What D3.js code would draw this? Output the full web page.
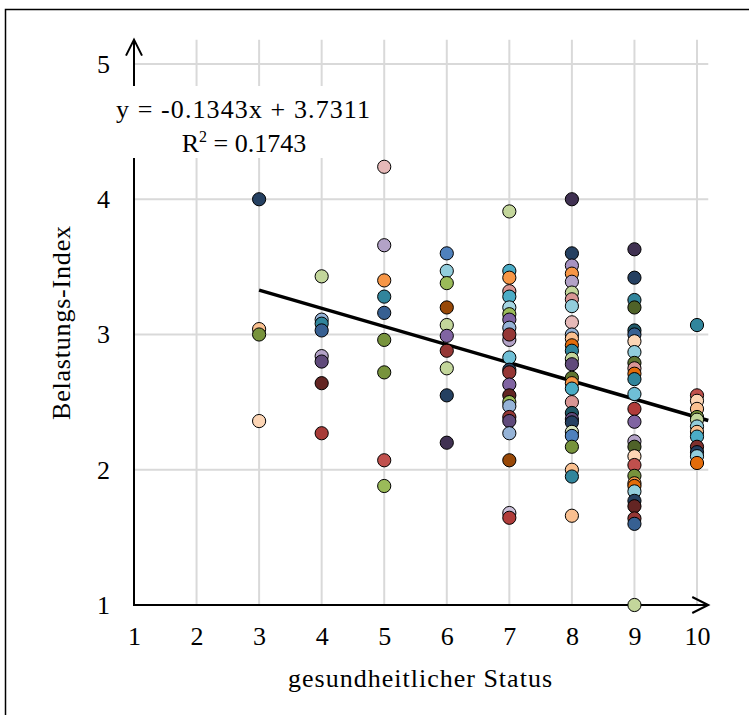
<!DOCTYPE html>
<meta charset="utf-8">
<style>
html, body {
  margin: 0;
  padding: 0;
  background: #fff;
}
svg text {
  font-family: "Liberation Serif", "DejaVu Serif", serif;
  fill: #000;
}
.grid line {
  stroke: #d9d9d9;
  stroke-width: 2px;
}
.dots circle {
  stroke: #000;
  stroke-width: 1px;
}
</style>
<div id="chart"></div>
<script src="https://cdn.jsdelivr.net/npm/d3@7"></script>
<script>

// values: one array per status column
var statusCols = [3, 4, 5, 6, 7, 8, 9, 10];
var belastung = [
  [4.0, 3.04, 3.0, 2.36],
  [3.43, 3.11, 3.08, 3.03, 2.84, 2.80, 2.64, 2.27],
  [4.24, 3.66, 3.40, 3.28, 3.16, 2.96, 2.72, 2.07, 1.88],
  [3.60, 3.47, 3.38, 3.20, 3.07, 2.99, 2.88, 2.75, 2.55, 2.20],
  [3.91, 3.47, 3.42, 3.32, 3.28, 3.20, 3.15, 3.11, 3.05, 2.96, 3.00, 2.83, 2.74, 2.72,
   2.63, 2.55, 2.50, 2.47, 2.39, 2.36, 2.27, 2.07, 1.68, 1.645],
  [4.0, 3.60, 3.51, 3.45, 3.39, 3.31, 3.26, 3.21, 3.09, 3.0, 2.97, 2.92, 2.88, 2.82,
   2.78, 2.68, 2.64, 2.60, 2.50, 2.42, 2.375, 2.35, 2.28, 2.25, 2.17, 2.0, 1.95, 1.66],
  [3.63, 3.42, 3.255, 3.20, 3.03, 3.0, 2.95, 2.87, 2.79, 2.75, 2.71, 2.67, 2.56, 2.45,
   2.355, 2.21, 2.17, 2.10, 2.035, 1.955, 1.90, 1.88, 1.84, 1.77, 1.73, 1.64, 1.60, 1.0],
  [3.07, 2.55, 2.51, 2.45, 2.39, 2.37, 2.32, 2.28, 2.245, 2.17, 2.13, 2.10, 2.05]
];
// colour of each marker, same layout as belastung
var pointColors = [
  ["#254061", "#fac090", "#77933c", "#fcd5b5"],
  ["#c3d69b", "#95b3d7", "#31859c", "#376092", "#b3a2c7", "#604a7b", "#632523", "#a83b38"],
  ["#e6b9b8", "#b3a2c7", "#f79646", "#31859c", "#376092", "#77933c", "#77933c", "#c0504d", "#9bbb59"],
  ["#4f81bd", "#92cddc", "#9bbb59", "#984807", "#c3d69b", "#8064a2", "#953735", "#c3d69b", "#254061", "#403152"],
  ["#c3d69b", "#4bacc6", "#f79646", "#d99694", "#4bacc6", "#a5d5e2", "#9bbb59", "#8064a2", "#95b3d7", "#b3a2c7",
   "#953735", "#6fbfd6", "#254061", "#953735", "#8064a2", "#632523", "#9bbb59", "#95b3d7", "#953735", "#604a7b",
   "#95b3d7", "#984807", "#ccc1da", "#b03c3a"],
  ["#403152", "#254061", "#a692c2", "#f79646", "#b3a2c7", "#c3d69b", "#d99694", "#92cddc", "#e6b9b8", "#95b3d7",
   "#fac090", "#e46c0a", "#31859c", "#c3d69b", "#604a7b", "#5f7530", "#f79646", "#4bacc6", "#d99694", "#205867",
   "#604a7b", "#254061", "#d7e4bd", "#4f81bd", "#77933c", "#fac090", "#31859c", "#fac090"],
  ["#403152", "#254061", "#31859c", "#4f6228", "#205867", "#376092", "#fcd5b5", "#92cddc", "#5f7530", "#d99694",
   "#e46c0a", "#31859c", "#6fbfd6", "#b03c3a", "#8064a2", "#b3a2c7", "#4f6228", "#fcd5b5", "#c0504d", "#77933c",
   "#f79646", "#e46c0a", "#92cddc", "#254061", "#632523", "#953735", "#376092", "#c3d69b"],
  ["#31859c", "#c0504d", "#fcd5b5", "#fac090", "#77933c", "#c3d69b", "#92cddc", "#fac090", "#4bacc6", "#7f2f2d",
   "#254061", "#92cddc", "#e46c0a"]
];

var xTicks = [1, 2, 3, 4, 5, 6, 7, 8, 9, 10];
var yTicks = [1, 2, 3, 4, 5];
var trendSlope = -0.1343;
var trendIntercept = 3.7311;
var trendFrom = 3, trendTo = 10.18;
var rSquared = "0.1743";

var points = [];
statusCols.forEach(function(s, i) {
  belastung[i].forEach(function(v, j) {
    points.push({x: s, y: v, c: pointColors[i][j]});
  });
});

var width = 749, height = 715;

var svg = d3.select("#chart").append("svg")
    .attr("width", width)
    .attr("height", height);

var x = d3.scaleLinear().domain([1, 10]).range([134, 697]);
var y = d3.scaleLinear().domain([1, 5]).range([605, 64]);

var xEnd = x(10.18), yTop = y(5.18);

// outer frame (runs off the right and bottom edge)
svg.append("rect")
    .attr("x", 5.5).attr("y", 9.5)
    .attr("width", 800).attr("height", 800)
    .attr("fill", "none")
    .attr("stroke", "#000")
    .attr("stroke-width", 1.5);

var grid = svg.append("g").attr("class", "grid");
grid.selectAll(".vx")
    .data(xTicks.slice(1))
  .enter().append("line")
    .attr("x1", d => x(d)).attr("x2", d => x(d))
    .attr("y1", yTop).attr("y2", y(1));
grid.selectAll(".hy")
    .data(yTicks.slice(1))
  .enter().append("line")
    .attr("x1", x(1)).attr("x2", xEnd)
    .attr("y1", d => y(d)).attr("y2", d => y(d));

// tick labels through d3 axes
var xAxis = svg.append("g")
    .attr("transform", "translate(0," + y(1) + ")")
    .call(d3.axisBottom(x).tickValues(xTicks).tickFormat(d3.format("d")).tickSize(0).tickPadding(22));
var yAxis = svg.append("g")
    .attr("transform", "translate(" + x(1) + ",0)")
    .call(d3.axisLeft(y).tickValues(yTicks).tickFormat(d3.format("d")).tickSize(0).tickPadding(24));
[xAxis, yAxis].forEach(function(a) {
  a.select(".domain").remove();
  a.selectAll("text")
      .style("font-family", '"Liberation Serif", serif')
      .style("font-size", "26px");
});

// axis lines with open arrow heads
var axisPath = svg.append("g")
    .attr("fill", "none")
    .attr("stroke", "#000")
    .attr("stroke-width", 2);
axisPath.append("path")
    .attr("d", "M" + x(1) + "," + yTop + "V" + y(1) + "H" + xEnd);
axisPath.append("path")
    .attr("d", "M" + (x(1) - 8) + "," + (yTop + 16) + "L" + x(1) + "," + yTop + "L" + (x(1) + 8) + "," + (yTop + 16));
axisPath.append("path")
    .attr("d", "M" + (xEnd - 16) + "," + (y(1) - 8) + "L" + xEnd + "," + y(1) + "L" + (xEnd - 16) + "," + (y(1) + 8));

// trend line
svg.append("line")
    .attr("x1", x(trendFrom)).attr("y1", y(trendIntercept + trendSlope * trendFrom))
    .attr("x2", x(trendTo)).attr("y2", y(trendIntercept + trendSlope * trendTo))
    .attr("stroke", "#000")
    .attr("stroke-width", 3.5);

svg.append("g").attr("class", "dots")
  .selectAll("circle")
    .data(points)
  .enter().append("circle")
    .attr("cx", d => x(d.x))
    .attr("cy", d => y(d.y))
    .attr("r", 6.6)
    .attr("fill", d => d.c);

// equation label, white box hides the grid behind it
svg.append("rect")
    .attr("x", 112).attr("y", 86)
    .attr("width", 262).attr("height", 72)
    .attr("fill", "#fff");
svg.append("text")
    .attr("x", 243).attr("y", 118)
    .attr("text-anchor", "middle")
    .attr("textLength", 254)
    .attr("lengthAdjust", "spacing")
    .style("font-size", "26px")
    .text("y = " + trendSlope + "x + " + trendIntercept);
var r2 = svg.append("text")
    .attr("x", 244).attr("y", 152)
    .attr("text-anchor", "middle")
    .style("font-size", "26px");
r2.append("tspan").text("R");
r2.append("tspan").attr("dy", -10).style("font-size", "16px").text("2");
r2.append("tspan").attr("dy", 10).text(" = " + rSquared);

svg.append("text")
    .attr("x", 420).attr("y", 687)
    .attr("text-anchor", "middle")
    .attr("textLength", 264)
    .attr("lengthAdjust", "spacing")
    .style("font-size", "26px")
    .text("gesundheitlicher Status");

svg.append("text")
    .attr("transform", "translate(70,323) rotate(-90)")
    .attr("text-anchor", "middle")
    .attr("textLength", 194)
    .attr("lengthAdjust", "spacing")
    .style("font-size", "26px")
    .text("Belastungs-Index");

</script>
